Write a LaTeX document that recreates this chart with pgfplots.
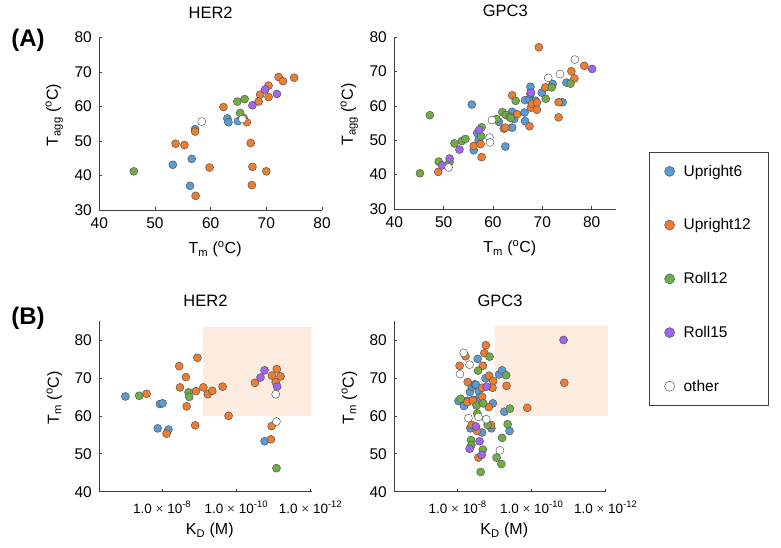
\documentclass[border=0pt]{standalone}
\usepackage{fontspec}
\setmainfont{Liberation Sans}
\usepackage{pgfplots}
\pgfplotsset{compat=1.18}

\definecolor{cblue}{HTML}{5B9BD5}
\definecolor{corange}{HTML}{ED7D31}
\definecolor{cgreen}{HTML}{70AD47}
\definecolor{cpurple}{HTML}{A066F0}
\definecolor{cedge}{HTML}{505050}
\definecolor{caxis}{HTML}{404040}
\definecolor{cshade}{HTML}{FCEBDF}

\newcommand{\fs}[1]{\fontsize{#1}{#1}\selectfont}
\newcommand{\kd}[1]{1.0 {\color{caxis}×} 10\textsuperscript{#1}}

\pgfplotsset{
  panel/.style={
    scale only axis, anchor=south west,
    axis lines*=left,
    axis line style={caxis, line width=0.7pt},
    tick align=inside, major tick length=3pt,
    tick style={caxis, line width=0.6pt},
    tick label style={font=\fs{15.5}},
    /pgf/number format/assume math mode=true,
    yticklabel style={xshift=-4pt},
    xticklabel style={yshift=-4pt},
    label style={font=\fs{16}},
    title style={font=\fs{16.5}},
    ylabel style={at={(axis description cs:0,0.55)}, yshift=45pt, anchor=center},
    xlabel style={at={(axis description cs:0.52,0)}, yshift=-39pt, anchor=center},
    only marks,
  },
  dot/.style={mark=*, mark size=4pt, mark options={draw=cedge, line width=0.45pt, fill=#1}},
}

\begin{document}
\begin{tikzpicture}
\useasboundingbox (0,0) rectangle (781pt,547pt);

\node[font=\bfseries\fs{24}] at (28pt,507pt) {(A)};
\node[font=\bfseries\fs{24}] at (28pt,229pt) {(B)};

% (A) HER2
\begin{axis}[panel, at={(99.3pt,337pt)}, width=222.7pt, height=172.7pt,
  xmin=40, xmax=80, ymin=30, ymax=80, xtick={40,50,...,80}, ytick={30,40,...,80},
  title={HER2}, title style={at={(axis description cs:0.5,1)}, yshift=19pt, anchor=center},
  xlabel={T\textsubscript{m} (\textsuperscript{o}C)},
  ylabel={T\textsubscript{agg} (\textsuperscript{o}C)}]
\addplot[dot=cblue] coordinates {(53.2,43.1)(56.6,44.8)(56.3,37.0)(57.2,53.4)(63.0,56.5)(63.2,55.4)(64.9,55.7)};
\addplot[dot=corange] coordinates {(53.7,49.2)(55.3,48.8)(57.2,52.7)(57.3,34.1)(59.8,42.3)(62.3,59.8)(65.9,56.7)(66.5,55.4)(67.2,49.4)(67.5,42.5)(67.4,37.2)(70.0,41.2)(70.4,62.7)(70.4,66.0)(68.9,63.4)(68.6,61.4)(72.2,68.5)(73.0,67.3)(75.0,68.3)};
\addplot[dot=cgreen] coordinates {(46.2,41.2)(64.8,61.4)(66.1,62.1)(65.3,58.1)};
\addplot[dot=cpurple] coordinates {(67.5,60.3)(69.8,64.9)(71.9,63.6)};
\addplot[dot=white] coordinates {(58.4,55.6)(65.7,56.3)};
\end{axis}

% (A) GPC3
\begin{axis}[panel, at={(394.3pt,338pt)}, width=222pt, height=171.7pt,
  xmin=40, xmax=85, ymin=30, ymax=80, xtick={40,50,...,80}, ytick={30,40,...,80},
  title={GPC3}, title style={at={(axis description cs:0.5,1)}, yshift=20pt, anchor=center},
  xlabel={T\textsubscript{m} (\textsuperscript{o}C)},
  ylabel={T\textsubscript{agg} (\textsuperscript{o}C)},
  legend style={at={(axis description cs:1.1486,0.3337)}, anchor=north west,
    draw=caxis, line width=0.6pt, font=\fs{15.5}, inner xsep=15pt, inner ysep=11pt,
    row sep=37pt, cells={anchor=west},
    /tikz/every odd column/.append style={column sep=7pt}},
  legend image code/.code={\draw[#1] plot coordinates {(0pt,0pt)};},
  legend image post style={mark size=5pt}]
\addplot[dot=cblue] coordinates {(55.7,60.4)(56.1,47.1)(56.8,52.1)(57.1,50.0)(62.5,48.2)(61.2,55.4)(63.9,58.3)(64.3,56.2)(63.9,53.7)(66.4,58.1)(66.5,55.6)(66.5,61.7)(67.4,62.0)(67.6,65.6)(67.6,63.5)(69.9,63.9)(72.1,66.4)(74.1,61.1)(74.9,66.8)(68.6,61.5)};
\addplot[dot=corange] coordinates {(48.9,40.8)(56.1,48.4)(57.5,48.9)(57.7,45.1)(62.2,53.4)(62.5,53.7)(63.9,63.1)(64.9,57.6)(67.4,54.1)(67.7,59.5)(67.9,60.6)(68.9,61.0)(68.9,58.9)(69.3,77.1)(70.6,65.4)(73.3,56.7)(73.3,61.1)(75.9,70.1)(76.5,68.0)(78.5,71.7)};
\addplot[dot=cgreen] coordinates {(45.2,40.4)(47.2,57.3)(49.0,43.8)(51.2,43.7)(52.2,49.1)(53.7,49.8)(54.4,50.4)(57.7,53.8)(57.6,51.2)(60.7,56.2)(61.9,58.2)(62.6,57.4)(63.4,56.8)(63.6,56.5)(64.6,61.5)(70.7,62.1)(71.9,65.4)(75.7,66.5)};
\addplot[dot=cpurple] coordinates {(49.7,42.7)(51.2,44.7)(53.2,47.3)(57.2,53.0)(67.7,63.9)(80.1,70.8)};
\addplot[dot=white] coordinates {(51.0,42.1)(59.8,55.9)(59.3,50.8)(59.4,49.4)(71.2,68.2)(73.6,69.3)(76.6,73.5)};
\legend{Upright6, Upright12, Roll12, Roll15, other}
\end{axis}

% (B) HER2, x = -log10(KD)
\begin{axis}[panel, at={(99.3pt,55.3pt)}, width=212.4pt, height=170.7pt,
  xmin=6.306, xmax=12.03, ymin=40, ymax=85, ytick={40,50,...,80},
  xtick={8,10,12},
  xticklabels={\kd{-8}, \kd{-10}, \kd{-12}},
  xticklabel style={font=\fs{13.5}, yshift=-2pt},
  title={HER2}, title style={at={(axis description cs:0.5,1)}, yshift=14pt, anchor=center},
  xlabel={K\textsubscript{D} (M)},
  ylabel={T\textsubscript{m} (\textsuperscript{o}C)}]
\fill[cshade] (axis cs:9.09,60) rectangle (axis cs:12.03,83.5);
\addplot[dot=cblue] coordinates {(7.01,65.1)(7.94,63.1)(8.01,63.3)(7.88,56.7)(8.17,56.4)(10.76,53.3)};
\addplot[dot=corange] coordinates {(7.58,65.8)(8.12,55.3)(8.46,73.1)(8.48,67.5)(8.64,70.2)(8.66,62.5)(8.89,57.5)(8.91,66.5)(8.95,75.3)(9.11,67.5)(9.23,65.7)(9.35,66.6)(9.63,67.7)(9.79,60.0)(10.50,68.7)(10.96,70.6)(10.95,57.3)(10.93,53.8)(11.09,72.3)(11.06,68.9)(11.19,70.4)};
\addplot[dot=cgreen] coordinates {(7.38,65.3)(8.71,66.2)(8.73,65.0)(11.08,46.2)};
\addplot[dot=cpurple] coordinates {(10.65,70.1)(10.76,72.0)(11.10,67.7)};
\addplot[dot=white] coordinates {(11.06,65.7)(11.08,58.5)};
\end{axis}

% (B) GPC3, x = -log10(KD)
\begin{axis}[panel, at={(394.3pt,55.3pt)}, width=211.4pt, height=170.7pt,
  xmin=6.286, xmax=12.0, ymin=40, ymax=85, ytick={40,50,...,80},
  xtick={8,10,12},
  xticklabels={\kd{-8}, \kd{-10}, \kd{-12}},
  xticklabel style={font=\fs{13.5}, yshift=-2pt},
  title={GPC3}, title style={at={(axis description cs:0.5,1)}, yshift=14pt, anchor=center},
  xlabel={K\textsubscript{D} (M)},
  ylabel={T\textsubscript{m} (\textsuperscript{o}C)}, clip=false]
\fill[cshade] (axis cs:9.0,60) rectangle (axis cs:12.05,83.7);
\addplot[dot=cblue] coordinates {(8.02,63.9)(8.17,62.6)(8.33,66.3)(8.38,67.7)(8.46,68.3)(8.49,68.2)(8.34,56.7)(8.54,75.0)(8.57,66.5)(8.58,64.8)(8.66,55.6)(8.75,69.9)(8.95,63.3)(8.91,56.7)(9.12,70.9)(9.20,72.0)(9.26,61.1)(9.40,56.0)(8.42,64.2)(8.26,64.0)};
\addplot[dot=corange] coordinates {(8.05,73.2)(8.21,75.7)(8.27,68.9)(8.26,63.6)(8.41,64.0)(8.38,57.6)(8.56,49.0)(8.52,56.0)(8.66,67.4)(8.68,73.2)(8.66,65.0)(8.72,76.5)(8.76,78.6)(8.84,62.3)(8.85,70.6)(8.96,69.2)(8.94,67.4)(8.90,57.6)(9.32,67.9)(9.88,62.1)(10.88,68.7)};
\addplot[dot=cgreen] coordinates {(8.08,64.5)(8.36,53.6)(8.37,52.3)(8.51,62.7)(8.55,71.9)(8.53,60.6)(8.68,51.1)(8.69,63.3)(8.62,45.2)(8.81,57.6)(8.86,75.6)(9.05,49.0)(9.18,47.3)(9.20,54.2)(9.31,70.7)(9.35,57.8)(9.41,61.9)};
\addplot[dot=cpurple] coordinates {(8.32,51.3)(8.49,57.2)(8.59,53.3)(8.65,49.7)(8.78,67.7)(10.86,80.0)};
\addplot[dot=white] coordinates {(8.16,76.6)(8.06,71.0)(8.32,73.5)(8.29,59.4)(8.56,59.7)(8.77,59.1)(9.14,50.9)};
\end{axis}
\end{tikzpicture}
\end{document}
